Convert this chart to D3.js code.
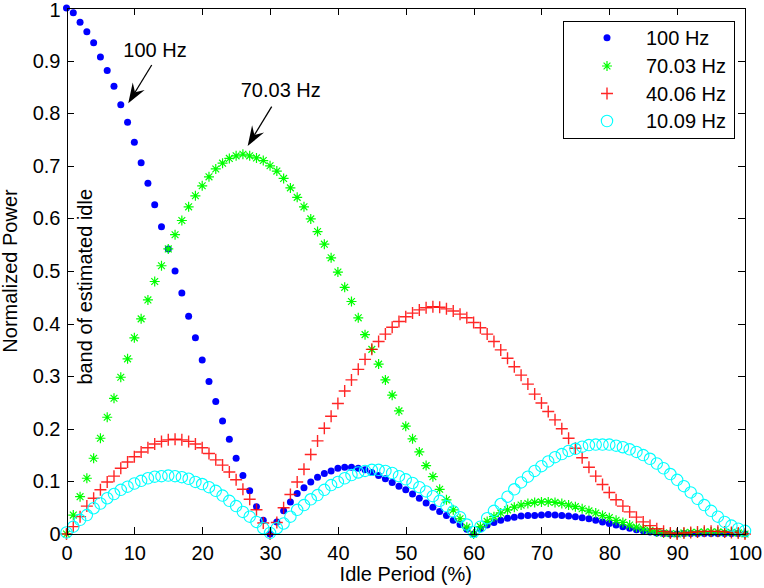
<!DOCTYPE html>
<html><head><meta charset="utf-8">
<script src="https://cdn.jsdelivr.net/npm/d3@7"></script>
<style>
body{margin:0;background:#fff}
svg{display:block}
text{font-family:"Liberation Sans",Arial,Helvetica,sans-serif;fill:#000}
</style>
</head><body><svg id="c" width="764" height="588"></svg>
<script>
// ---- data ----
const idlePeriod = d3.range(0, 101, 1);
const p100 = [1.000,0.991,0.973,0.955,0.934,0.907,0.881,0.851,0.816,0.783,
0.745,0.706,0.667,0.626,0.584,0.542,0.500,0.458,0.414,0.373,
0.331,0.290,0.252,0.215,0.180,0.144,0.111,0.082,0.052,0.026,
0.000,0.023,0.044,0.061,0.077,0.088,0.099,0.108,0.115,0.120,
0.125,0.127,0.127,0.125,0.122,0.117,0.111,0.105,0.098,0.091,
0.084,0.076,0.068,0.059,0.051,0.043,0.035,0.026,0.018,0.009,
0.000,0.010,0.017,0.022,0.026,0.030,0.032,0.034,0.035,0.035,
0.036,0.037,0.036,0.035,0.034,0.033,0.031,0.029,0.026,0.023,
0.020,0.017,0.014,0.011,0.008,0.006,0.004,0.002,0.001,0.000,
0.000,0.001,0.001,0.001,0.001,0.001,0.001,0.001,0.001,0.001,0.000];
const p70 = [0.000,0.036,0.071,0.106,0.144,0.182,0.222,0.258,0.298,0.333,
0.373,0.409,0.445,0.480,0.510,0.542,0.569,0.596,0.622,0.643,
0.662,0.679,0.694,0.705,0.714,0.719,0.722,0.719,0.715,0.710,
0.700,0.690,0.676,0.658,0.640,0.622,0.599,0.575,0.551,0.525,
0.498,0.469,0.442,0.411,0.379,0.351,0.323,0.293,0.264,0.234,
0.205,0.181,0.156,0.130,0.109,0.085,0.065,0.046,0.029,0.013,
0.000,0.014,0.024,0.033,0.040,0.046,0.051,0.055,0.058,0.060,
0.061,0.061,0.060,0.058,0.055,0.052,0.048,0.044,0.040,0.035,
0.031,0.026,0.022,0.017,0.013,0.010,0.007,0.004,0.002,0.001,
0.000,0.002,0.003,0.003,0.004,0.004,0.004,0.003,0.003,0.002,0.000];
const p40 = [0.000,0.014,0.033,0.053,0.068,0.084,0.099,0.110,0.125,0.137,
0.147,0.156,0.164,0.171,0.176,0.179,0.180,0.179,0.176,0.171,
0.164,0.153,0.141,0.131,0.118,0.103,0.085,0.066,0.046,0.021,
0.000,0.022,0.050,0.075,0.099,0.123,0.151,0.177,0.201,0.224,
0.248,0.272,0.293,0.313,0.332,0.351,0.366,0.380,0.393,0.404,
0.413,0.420,0.426,0.430,0.432,0.431,0.428,0.424,0.418,0.411,
0.402,0.392,0.380,0.366,0.350,0.334,0.318,0.302,0.285,0.266,
0.249,0.233,0.217,0.200,0.182,0.163,0.145,0.127,0.110,0.094,
0.079,0.065,0.053,0.042,0.032,0.023,0.016,0.010,0.005,0.002,
0.000,0.002,0.003,0.004,0.005,0.005,0.005,0.004,0.003,0.002,0.000];
const p10 = [0.003,0.014,0.027,0.036,0.049,0.058,0.068,0.076,0.084,0.090,
0.096,0.101,0.106,0.109,0.110,0.111,0.110,0.108,0.105,0.099,
0.095,0.089,0.082,0.073,0.063,0.053,0.042,0.033,0.023,0.011,
0.002,0.011,0.020,0.033,0.046,0.055,0.066,0.074,0.084,0.093,
0.099,0.106,0.112,0.117,0.120,0.122,0.122,0.120,0.116,0.110,
0.104,0.097,0.089,0.081,0.072,0.063,0.053,0.043,0.032,0.018,
0.004,0.014,0.030,0.044,0.057,0.071,0.085,0.098,0.109,0.120,
0.129,0.138,0.146,0.152,0.158,0.162,0.166,0.169,0.170,0.170,
0.170,0.168,0.165,0.161,0.156,0.150,0.143,0.134,0.125,0.114,
0.103,0.091,0.079,0.067,0.055,0.044,0.033,0.023,0.016,0.010,0.006];
const seriesNames = ["100 Hz", "70.03 Hz", "40.06 Hz", "10.09 Hz"];
const xTicks = [0,10,20,30,40,50,60,70,80,90,100];
const yTicks = [0,0.1,0.2,0.3,0.4,0.5,0.6,0.7,0.8,0.9,1];
const yTickLabels = ["0","0.1","0.2","0.3","0.4","0.5","0.6","0.7","0.8","0.9","1"];

// ---- setup ----
const svg = d3.select("#c");
const L = 66.5, R = 745, T = 8, B = 534;
const x = d3.scaleLinear().domain([0, 100]).range([L, R]);
const y = d3.scaleLinear().domain([0, 1]).range([B, T]);
const FS = 20;

// ---- series ----
const markers = {
  dot: g => g.append("circle").attr("r", 3.5).attr("fill", "#0000ff"),
  star: g => g.append("path").attr("d", "M-5,0H5M0,-5V5M-3.4,-3.4L3.4,3.4M-3.4,3.4L3.4,-3.4")
              .attr("stroke", "#00ff00").attr("stroke-width", 1.2).attr("fill", "none"),
  plus: g => g.append("path").attr("d", "M-6,0H6M0,-6V6")
              .attr("stroke", "#ff0000").attr("stroke-width", 1.4).attr("stroke-opacity", 0.85).attr("fill", "none"),
  ring: g => g.append("circle").attr("r", 5.7).attr("fill", "none").attr("stroke", "#00ffff").attr("stroke-width", 1.1)
};
const series = [
  {name: seriesNames[0], values: p100, m: "dot"},
  {name: seriesNames[1], values: p70, m: "star"},
  {name: seriesNames[2], values: p40, m: "plus"},
  {name: seriesNames[3], values: p10, m: "ring"}
];
const plot = svg.append("g");
series.forEach(s => {
  const g = plot.append("g");
  g.selectAll("g").data(idlePeriod).join("g")
    .attr("transform", (d, i) => `translate(${x(d)},${y(s.values[i])})`)
    .each(function () { markers[s.m](d3.select(this)); });
});

// ---- axes ----
function styleAxis(g) {
  g.selectAll("path,line").attr("stroke", "#000").attr("stroke-width", 1).attr("shape-rendering", "crispEdges");
  g.selectAll("text").attr("font-size", FS).attr("font-family", '"Liberation Sans",Arial,sans-serif').attr("fill", "#000");
}
svg.append("g").attr("transform", `translate(0,${B})`)
  .call(d3.axisBottom(x).tickValues(xTicks).tickSizeInner(-7).tickSizeOuter(0).tickPadding(11.3).tickFormat(d3.format("d")))
  .call(styleAxis);
svg.append("g").attr("transform", `translate(0,${T})`)
  .call(d3.axisTop(x).tickValues(xTicks).tickSizeInner(-7).tickSizeOuter(0).tickFormat(""))
  .call(styleAxis);
const yAx = svg.append("g").attr("transform", `translate(${L},0)`)
  .call(d3.axisLeft(y).tickValues(yTicks).tickSizeInner(-7).tickSizeOuter(0).tickPadding(6)
        .tickFormat((d, i) => yTickLabels[i]))
  .call(styleAxis);
// keep the top label inside the picture, as in the reference
yAx.selectAll(".tick text").filter(d => d === 1).attr("y", 2.5);
svg.append("g").attr("transform", `translate(${R},0)`)
  .call(d3.axisRight(y).tickValues(yTicks).tickSizeInner(-7).tickSizeOuter(0).tickFormat(""))
  .call(styleAxis);
svg.selectAll(".domain").attr("fill", "none");

// ---- axis labels ----
svg.append("text").attr("x", (L + R) / 2).attr("y", 581).attr("text-anchor", "middle")
  .attr("font-size", FS).text("Idle Period (%)");
svg.append("text").attr("transform", `translate(17,${(T + B) / 2}) rotate(-90)`).attr("text-anchor", "middle")
  .attr("font-size", FS).text("Normalized Power");
svg.append("text").attr("transform", `translate(91.5,${y(0.47)}) rotate(-90)`).attr("text-anchor", "middle")
  .attr("font-size", FS).text("band of estimated idle");

// ---- annotations ----
function arrow(x0, y0, x1, y1) {
  const dx = x1 - x0, dy = y1 - y0, len = Math.hypot(dx, dy);
  const ux = dx / len, uy = dy / len, nx = -uy, ny = ux;
  const HL = 20, HW = 7, NB = 13;
  const bx = x1 - ux * HL, by = y1 - uy * HL;
  const kx = x1 - ux * NB, ky = y1 - uy * NB;
  svg.append("line").attr("x1", x0).attr("y1", y0).attr("x2", kx).attr("y2", ky)
    .attr("stroke", "#000").attr("stroke-width", 1.3);
  svg.append("path").attr("d", `M${x1},${y1}L${bx + nx * HW},${by + ny * HW}L${kx},${ky}L${bx - nx * HW},${by - ny * HW}Z`)
    .attr("fill", "#000");
}
svg.append("text").attr("x", x(13.04)).attr("y", y(0.9074)).attr("text-anchor", "middle").attr("font-size", FS).text(seriesNames[0]);
arrow(x(12.56), y(0.8916), x(9.1), y(0.8188));
svg.append("text").attr("x", x(31.58)).attr("y", y(0.8314)).attr("text-anchor", "middle").attr("font-size", FS).text(seriesNames[1]);
arrow(x(30.24), y(0.8124), x(26.7), y(0.7376));

// ---- legend ----
const lg = svg.append("g");
lg.append("rect").attr("x", 563.5).attr("y", 21.5).attr("width", 171).attr("height", 117)
  .attr("fill", "#fff").attr("stroke", "#000").attr("stroke-width", 1);
const legY = [37.7, 66, 93.5, 121];
series.forEach((s, i) => {
  const g = lg.append("g").attr("transform", `translate(607,${legY[i]})`);
  markers[s.m](g);
  lg.append("text").attr("x", 646).attr("y", legY[i] + 7).attr("font-size", FS).text(s.name);
});
</script>
</body></html>
